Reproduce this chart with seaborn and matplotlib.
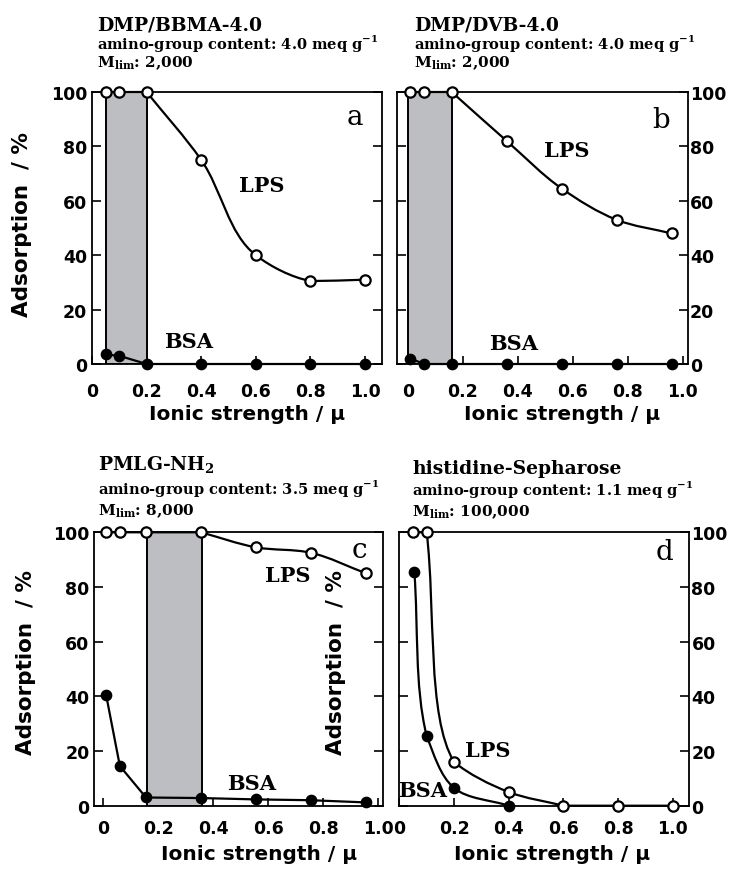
"""Adsorption of LPS and BSA versus ionic strength, four panels."""
import matplotlib

matplotlib.use("Agg")
import matplotlib.pyplot as plt
import numpy as np
import seaborn as sns
from matplotlib.patches import PathPatch
from matplotlib.path import Path

# ---- data ----
a_x = [0.05, 0.1, 0.2, 0.4, 0.6, 0.8, 1.0]
a_lps = [100, 100, 100, 75, 40, 30.5, 31]
a_bsa = [3.5, 3.0, 0, 0, 0, 0, 0]

b_x = [0.01, 0.06, 0.16, 0.36, 0.56, 0.76, 0.96]
b_lps = [100, 100, 100, 82, 64.5, 53, 48]
b_bsa = [2.0, 0, 0, 0, 0, 0, 0]

c_x = [0.01, 0.06, 0.155, 0.355, 0.555, 0.755, 0.955]
c_lps = [100, 100, 100, 100, 94.5, 92.5, 85]
c_bsa = [40.5, 14.5, 3.0, 2.8, 2.3, 2.0, 1.2]

d_x_lps = [0.05, 0.1, 0.2, 0.4, 0.6, 0.8, 1.0]
d_lps = [100, 100, 16, 5, 0, 0, 0]
d_x_bsa = [0.055, 0.1, 0.2, 0.4]
d_bsa = [85.5, 25.5, 6.5, 0]

shade = {"a": (0.05, 0.2), "b": (0.0, 0.16), "c": (0.16, 0.36), "d": None}

titles = {
    "a": ["DMP/BBMA-4.0", "4.0", "2,000"],
    "b": ["DMP/DVB-4.0", "4.0", "2,000"],
    "c": ["PMLG-NH$_{\\mathregular{2}}$", "3.5", "8,000"],
    "d": ["histidine-Sepharose", "1.1", "100,000"],
}

x_ticks = [0, 0.2, 0.4, 0.6, 0.8, 1.0]
x_tick_labels = ["0", "0.2", "0.4", "0.6", "0.8", "1.0"]
y_ticks = [0, 20, 40, 60, 80, 100]
y_tick_labels = ["0", "20", "40", "60", "80", "100"]

W, H = 732, 870
SANS = "DejaVu Sans"
SERIF = "DejaVu Serif"

sns.set_style("ticks")
plt.rcParams["font.family"] = [SANS]
plt.rcParams["text.color"] = "black"
plt.rcParams["xtick.color"] = "black"
plt.rcParams["ytick.color"] = "black"
plt.rcParams["axes.labelcolor"] = "black"


def bessel_run(p):
    """Cubic Bezier control points through p (display coords)."""
    seg = np.diff(p, axis=0)
    d = np.hypot(seg[:, 0], seg[:, 1])
    u = seg / d[:, None]
    n = len(p)
    m = np.zeros_like(p)
    for k in range(1, n - 1):
        m[k] = (d[k] * u[k - 1] + d[k - 1] * u[k]) / (d[k - 1] + d[k])
    m[0] = u[0]
    m[-1] = u[-1]
    out = []
    for k in range(n - 1):
        lo = np.minimum(p[k], p[k + 1])
        hi = np.maximum(p[k], p[k + 1])
        c1 = np.clip(p[k] + m[k] * d[k] / 3, lo, hi)
        c2 = np.clip(p[k + 1] - m[k + 1] * d[k] / 3, lo, hi)
        out += [c1, c2, p[k + 1]]
    return out


def draw_curve(ax, xs, ys, smooth=True):
    pts = ax.transData.transform(np.column_stack([xs, ys]))
    verts, codes = [pts[0]], [Path.MOVETO]
    i, n = 0, len(pts)
    while i < n - 1:
        j = i + 1
        if smooth and ys[i] != ys[i + 1]:
            while j < n - 1 and ys[j] != ys[j + 1]:
                j += 1
        run = pts[i:j + 1]
        if len(run) > 2:
            cps = bessel_run(run)
            verts += cps
            codes += [Path.CURVE4] * len(cps)
        else:
            verts.append(run[-1])
            codes.append(Path.LINETO)
        i = j
    verts = ax.transData.inverted().transform(np.array(verts))
    ax.add_patch(PathPatch(Path(verts, codes), fill=False, lw=1.6,
                           ec="black", zorder=3, clip_on=False))


def markers(ax, xs, ys, filled):
    sns.scatterplot(x=xs, y=ys, ax=ax, marker="o", s=55,
                    color="black" if filled else "white", edgecolor="black",
                    linewidth=1.0 if filled else 1.6, clip_on=False,
                    zorder=5, legend=False)


fig = plt.figure(figsize=(W / 100, H / 100), dpi=100)

# panel box in pixels: left, top, right, bottom
boxes = {
    "a": (92, 93, 382, 365),
    "b": (396.7, 93, 687.7, 365),
    "c": (94.3, 533.3, 383.3, 806.7),
    "d": (399.3, 533.3, 689.3, 806.7),
}
xlims = {"a": (0.007, 1.062), "b": (-0.04, 1.018),
         "c": (-0.033, 1.018), "d": (0.006, 1.06)}

axes = {}
for key, (l, t, r, b) in boxes.items():
    ax = fig.add_axes([l / W, 1 - b / H, (r - l) / W, (b - t) / H])
    ax.set_xlim(*xlims[key])
    ax.set_ylim(0, 100)
    axes[key] = ax
    for sp in ax.spines.values():
        sp.set_visible(True)
        sp.set_linewidth(1.3)
        sp.set_color("black")
    ax.set_xticks(x_ticks, x_tick_labels)
    ax.set_yticks(y_ticks, y_tick_labels)
    right = key in ("b", "d")
    ax.tick_params(axis="y", direction="in", length=6.5, width=1.2,
                   left=True, right=True, labelleft=not right,
                   labelright=right, pad=1.5 if right else 3.5,
                   labelsize=12.5, color="black", labelcolor="black")
    ax.tick_params(axis="x", direction="in", length=6, width=1.2,
                   pad=13 if key in ("a", "b") else 9.6, labelsize=12.5,
                   color="black", labelcolor="black")
    for lab in ax.get_xticklabels() + ax.get_yticklabels():
        lab.set_fontweight("bold")
    if shade[key] is not None:
        ax.axvspan(*shade[key], facecolor="#bdbec1", edgecolor="black",
                   lw=1.4, zorder=1)

series = {
    "a": [(a_x, a_bsa, True, False), (a_x, a_lps, False, True)],
    "b": [(b_x, b_bsa, True, False), (b_x, b_lps, False, True)],
    "c": [(c_x, c_bsa, True, False), (c_x, c_lps, False, True)],
    "d": [(d_x_bsa, d_bsa, True, True), (d_x_lps, d_lps, False, True)],
}
for key, lst in series.items():
    ax = axes[key]
    for xs, ys, filled, smooth in lst:
        draw_curve(ax, xs, ys, smooth)
        markers(ax, xs, ys, filled)

# labels inside panels (data coords)
tags = {
    "a": [(0.964, 88.2), (0.62, 63.7), (0.353, 6.1)],
    "b": [(0.921, 87.0), (0.58, 76.6), (0.385, 5.5)],
    "c": [(0.93, 90.8), (0.67, 82.3), (0.54, 6.1)],
    "d": [(0.968, 90.2), (0.325, 18.3), (0.085, 3.7)],
}
for key, (letter, lps, bsa) in tags.items():
    ax = axes[key]
    ax.text(*letter, key, family=SERIF, fontsize=20, ha="center",
            va="baseline", zorder=6)
    ax.text(*lps, "LPS", family=SERIF, fontsize=15, fontweight="bold",
            ha="center", va="baseline", zorder=6)
    ax.text(*bsa, "BSA", family=SERIF, fontsize=15, fontweight="bold",
            ha="center", va="baseline", zorder=6)

# axis labels
xlab = {"a": (247, 420), "b": (562, 420), "c": (259, 860), "d": (552, 860)}
for key, (x, y) in xlab.items():
    fig.text(x / W, 1 - y / H, "Ionic strength / μ", fontsize=14.5,
             fontweight="bold", ha="center", va="baseline")
ylab = {"a": (22, 225), "c": (26, 663), "d": (336, 663)}
for key, (x, y) in ylab.items():
    fig.text(x / W, 1 - y / H, "Adsorption  / %", fontsize=15.5,
             fontweight="bold", rotation=90, ha="center", va="center")

# headers above panels
heads = {"a": (97, (30, 49.5, 67)), "b": (413.7, (30, 49.5, 67)),
         "c": (98, (471, 494, 515)), "d": (412, (474, 495, 516))}
for key, (x, ys) in heads.items():
    name, amino, mlim = titles[key]
    fig.text(x / W, 1 - ys[0] / H, name, family=SERIF, fontsize=13.5,
             fontweight="bold", va="baseline")
    fig.text(x / W, 1 - ys[1] / H,
             f"amino-group content: {amino} meq g$^{{\\mathregular{{-1}}}}$",
             family=SERIF, fontsize=10.5, fontweight="bold", va="baseline")
    fig.text(x / W, 1 - ys[2] / H, f"M$_{{\\mathregular{{lim}}}}$: {mlim}",
             family=SERIF, fontsize=11, fontweight="bold", va="baseline")

fig.savefig("out.png", dpi=100)
